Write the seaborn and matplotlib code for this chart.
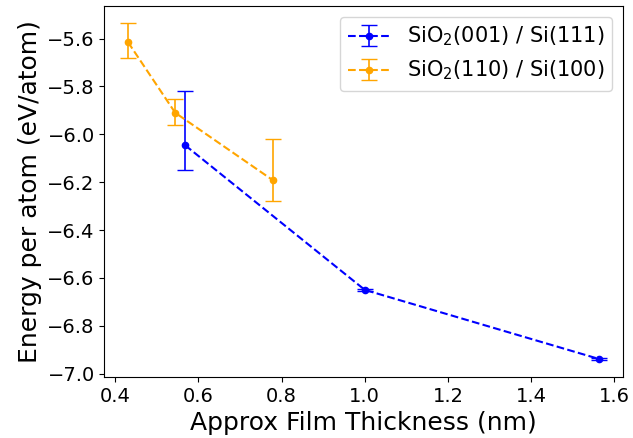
import matplotlib
matplotlib.use("Agg")
import matplotlib.pyplot as plt
import seaborn as sns
import numpy as np

sns.set_theme(style="ticks", rc={
    "axes.edgecolor": "black",
    "axes.linewidth": 0.8,
    "text.color": "black",
    "axes.labelcolor": "black",
    "xtick.color": "black",
    "ytick.color": "black",
    "xtick.major.size": 3.5,
    "ytick.major.size": 3.5,
    "xtick.major.width": 0.8,
    "ytick.major.width": 0.8,
    "xtick.major.pad": 3.5,
    "ytick.major.pad": 3.5,
})
plt.rcParams['font.family'] = ['DejaVu Sans']

# Data
x_001 = [0.568, 1.0, 1.564]
y_001 = [-6.046, -6.650, -6.939]
err_lo_001 = [0.104, 0.005, 0.005]
err_hi_001 = [0.225, 0.005, 0.005]

x_110 = [0.4305, 0.544, 0.779]
y_110 = [-5.615, -5.910, -6.192]
err_lo_110 = [0.067, 0.050, 0.088]
err_hi_110 = [0.080, 0.056, 0.174]

labels = ["SiO$_2$(001) / Si(111)", "SiO$_2$(110) / Si(100)"]

fig, ax = plt.subplots(figsize=(6.33, 4.38), dpi=100)
fig.subplots_adjust(left=0.165, right=0.984, top=0.986, bottom=0.139)

ax.errorbar(x_001, y_001, yerr=[err_lo_001, err_hi_001], fmt='o--', color='blue',
            markersize=4.5, capsize=6, linewidth=1.5, elinewidth=1.2, label=labels[0])
ax.errorbar(x_110, y_110, yerr=[err_lo_110, err_hi_110], fmt='o--', color='orange',
            markersize=4.5, capsize=6, linewidth=1.5, elinewidth=1.2, label=labels[1])

ax.set_xlabel("Approx Film Thickness (nm)", fontsize=18, labelpad=4)
ax.set_ylabel("Energy per atom (eV/atom)", fontsize=18, labelpad=4)
ax.tick_params(labelsize=14)
ax.set_xticks([0.4, 0.6, 0.8, 1.0, 1.2, 1.4, 1.6])
ax.set_yticks([-7.0, -6.8, -6.6, -6.4, -6.2, -6.0, -5.8, -5.6])
ax.legend(loc='upper right', fontsize=15)

fig.savefig("out.png", dpi=100)
